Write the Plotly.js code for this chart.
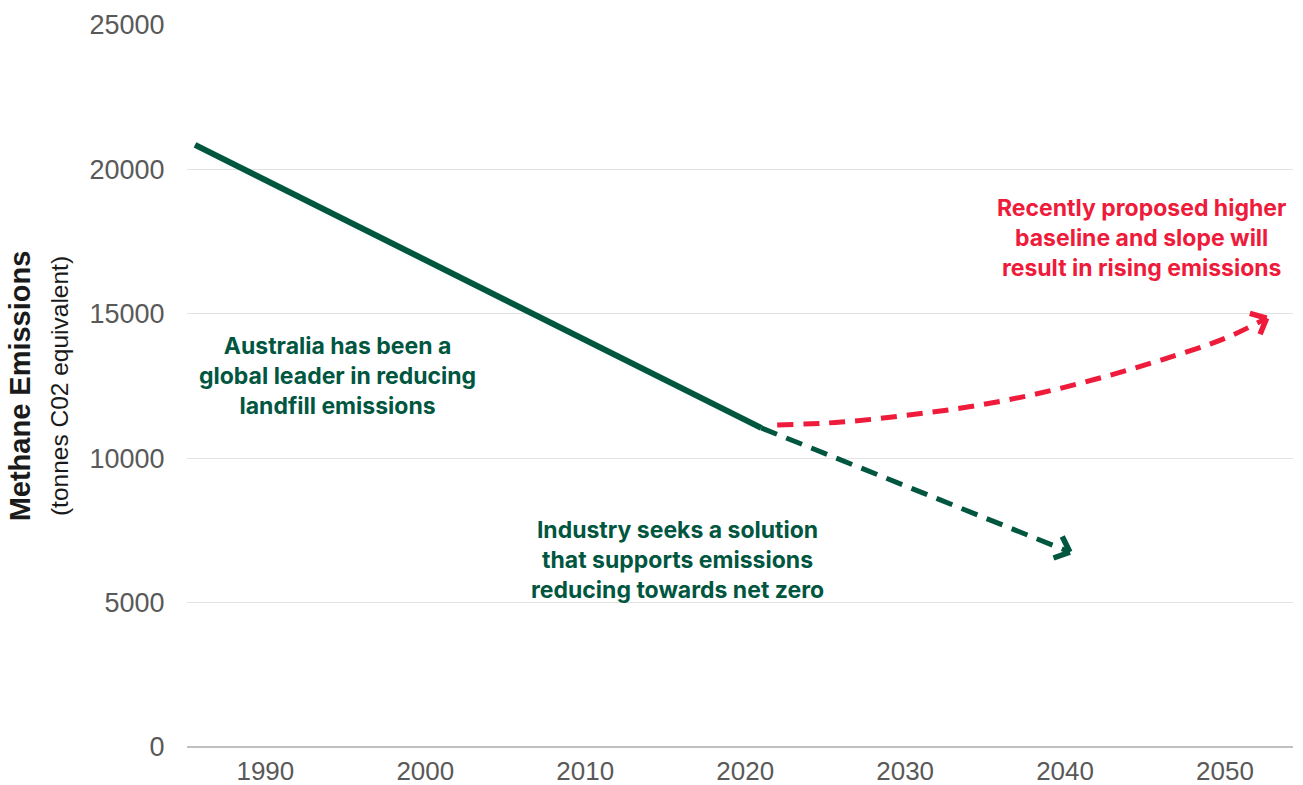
<!DOCTYPE html>
<html>
<head>
<meta charset="utf-8">
<script src="https://cdn.plot.ly/plotly-3.0.1.min.js"></script>
<style>html,body{margin:0;padding:0;background:#fff}#chart{width:1303px;height:785px}</style>
</head>
<body>
<div id="chart"></div>
<script>
// Historical emissions (solid green)
const histYears = [1985.6, 2021.0];
const histValues = [20850, 11050];
// Industry pathway (dashed green)
const industryYears = [2021.0, 2040.3];
const industryValues = [11050, 6750];
// Proposed baseline (dashed red)
const proposedYears = [2022.0, 2026, 2030, 2034, 2038, 2042, 2046, 2050, 2052.6];
const proposedValues = [11150, 11250, 11480, 11780, 12200, 12750, 13400, 14150, 14850];
// Axis ticks
const xTickVals = [1990, 2000, 2010, 2020, 2030, 2040, 2050];
const yTickVals = [0, 5000, 10000, 15000, 20000, 25000];

const GREEN = '#00563f';
const RED = '#ee1b3a';

const W = 1303, H = 785;
const M = {l: 187, r: 10, t: 25, b: 38};
const XR = [1985.1, 2054.25], YR = [0, 25000];
const pxX = (W - M.l - M.r) / (XR[1] - XR[0]);
const pxY = (H - M.t - M.b) / (YR[1] - YR[0]);

// chevron arrowhead built from two short annotation arrows anchored at the last data point
function chevron(xs, ys, color) {
  const n = xs.length;
  const dx = (xs[n-1] - xs[n-2]) * pxX;
  const dy = -(ys[n-1] - ys[n-2]) * pxY; // screen y downwards
  const ang = Math.atan2(dy, dx);
  const len = 19, spread = 42 * Math.PI / 180;
  return [-1, 1].map(s => {
    const a = ang + Math.PI + s * spread;
    return {x: xs[n-1], y: ys[n-1], xref: 'x', yref: 'y', showarrow: true, arrowhead: 0,
            arrowwidth: 5.5, arrowcolor: color, ax: len * Math.cos(a), ay: len * Math.sin(a), text: ''};
  });
}

const traces = [
  {x: histYears, y: histValues, mode: 'lines', line: {color: GREEN, width: 6}, hoverinfo: 'skip'},
  {x: industryYears, y: industryValues, mode: 'lines',
   line: {color: GREEN, width: 5, dash: '17px,10px'}, hoverinfo: 'skip'},
  {x: proposedYears, y: proposedValues, mode: 'lines',
   line: {color: RED, width: 5, dash: '16px,10px', shape: 'spline', smoothing: 1}, hoverinfo: 'skip'}
];

const annFont = (c) => ({family: 'Inter, "Open Sans", sans-serif', size: 23, color: c, weight: 700});

const layout = {
  width: W, height: H,
  margin: M,
  paper_bgcolor: '#fff', plot_bgcolor: '#fff',
  showlegend: false,
  xaxis: {
    range: XR, tickvals: xTickVals, ticktext: xTickVals.map(String),
    showgrid: false, zeroline: false, showline: false,
    ticks: 'outside', ticklen: 1, tickcolor: 'rgba(0,0,0,0)',
    tickfont: {family: '"Liberation Sans", Arial, sans-serif', size: 26, color: '#595959'}
  },
  yaxis: {
    range: YR, tickvals: yTickVals, ticktext: yTickVals.map(String),
    showgrid: true, gridcolor: '#e3e3e3', gridwidth: 1,
    zeroline: true, zerolinecolor: '#bfbfbf', zerolinewidth: 1.5, showline: false,
    ticks: 'outside', ticklen: 16, tickcolor: 'rgba(0,0,0,0)',
    tickfont: {family: '"Liberation Sans", Arial, sans-serif', size: 27, color: '#595959'},
    title: {
      text: '<b>Methane Emissions</b><br><span style="font-size:24.5px;font-weight:normal">(tonnes C02 equivalent)</span>',
      font: {family: '"Liberation Sans", Arial, sans-serif', size: 29, color: '#1a1a1a'},
      standoff: 12
    }
  },
  annotations: [
    {x: 1994.5, y: 12846, xref: 'x', yref: 'y', showarrow: false, align: 'center',
     text: 'Australia has been a<br>global leader in reducing<br>landfill emissions', font: annFont(GREEN)},
    {x: 2015.75, y: 6475, xref: 'x', yref: 'y', showarrow: false, align: 'center',
     text: 'Industry seeks a solution<br>that supports emissions<br>reducing towards net zero', font: annFont(GREEN)},
    {x: 2044.8, y: 17625, xref: 'x', yref: 'y', showarrow: false, align: 'center',
     text: 'Recently proposed higher<br>baseline and slope will<br>result in rising emissions', font: annFont(RED)}
  ].concat(chevron(industryYears, industryValues, GREEN), chevron(proposedYears, proposedValues, RED))
};

Plotly.newPlot('chart', traces, layout, {displayModeBar: false, staticPlot: true});
</script>
</body>
</html>
